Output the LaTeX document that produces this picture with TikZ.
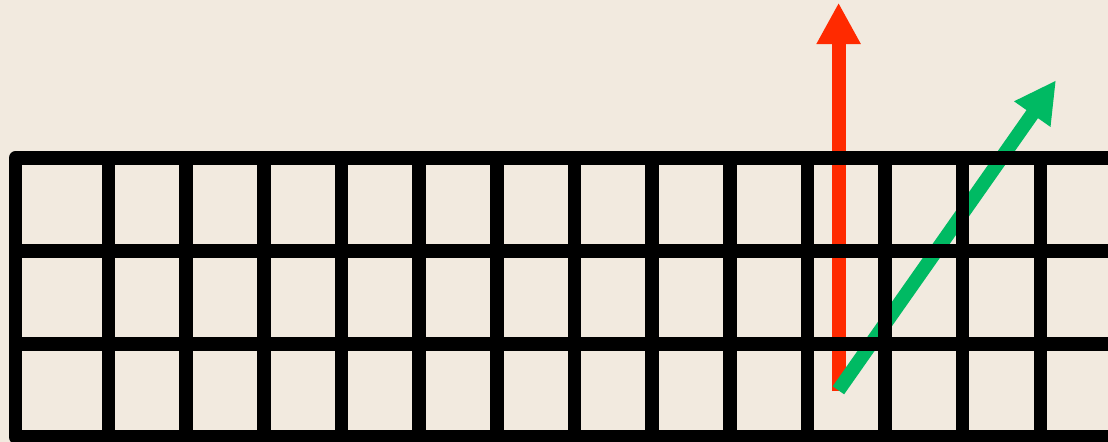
\documentclass[tikz,border=0pt]{standalone}
\usetikzlibrary{arrows.meta}
\definecolor{bg}{RGB}{242,234,223}
\definecolor{redarrow}{RGB}{255,42,0}
\definecolor{greenarrow}{RGB}{0,186,99}
\tikzset{
  gridline/.style={line width=10.2pt, draw=black, line join=round, line cap=butt},
  vecarrow/.style={line width=10.5pt, line cap=butt, -{Triangle[length=31pt,width=31pt]}}
}
\begin{document}
\begin{tikzpicture}[x=0.75pt,y=-0.75pt]
  \fill[bg] (0,0) rectangle (1108,442);
  \useasboundingbox (0,0) rectangle (1108,442);
  \clip (0,0) rectangle (1108,442);
  % vectors
  \coordinate (o) at (838.6,391);
  \coordinate (rtip) at (838.6,2.7);
  \coordinate (gtip) at (1056,80.3);
  \draw[vecarrow, draw=redarrow, fill=redarrow] (o) -- (rtip);
  \draw[vecarrow, draw=greenarrow, fill=greenarrow] (838.4,390.3) -- (gtip);
  % grid
  \draw[gridline] (1130,158) -- (15.5,158) -- (15.5,437) -- (1130,437);
  \foreach \y in {251,344} \draw[gridline] (15.5,\y) -- (1130,\y);
  \foreach \k in {0,...,12} \draw[gridline] ({108.5+77.65*\k},158) -- ({108.5+77.65*\k},437);
\end{tikzpicture}
\end{document}
